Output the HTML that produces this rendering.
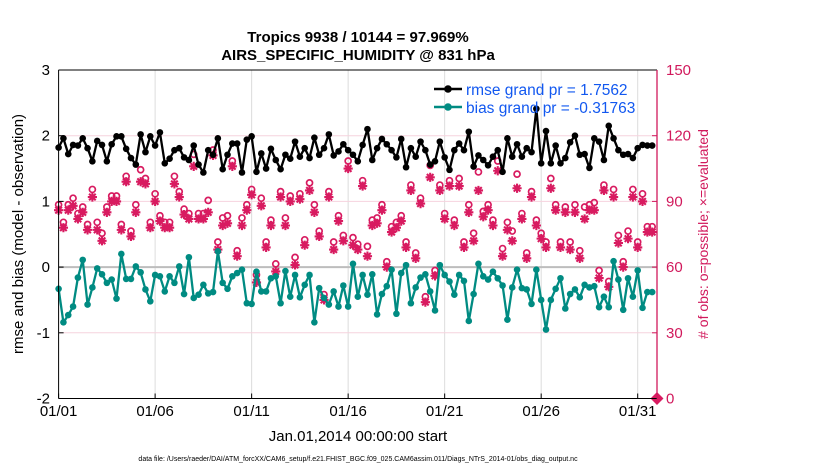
<!DOCTYPE html>
<html><head><meta charset="utf-8"><style>
html,body{margin:0;padding:0;background:#fff;}
svg{display:block;font-family:"Liberation Sans",sans-serif;}
</style></head><body>
<svg id="chart" width="830" height="470" viewBox="0 0 830 470">
<text x="358" y="42" text-anchor="middle" font-size="15" font-weight="bold">Tropics 9938 / 10144 = 97.969%</text>
<text x="358" y="60" text-anchor="middle" font-size="15" font-weight="bold">AIRS_SPECIFIC_HUMIDITY @ 831 hPa</text>
<g id="grid"></g>
<g id="series"></g>
<g id="axes"></g>
<text x="358" y="441" text-anchor="middle" font-size="15">Jan.01,2014 00:00:00 start</text>
<text transform="translate(23,234) rotate(-90)" text-anchor="middle" font-size="15">rmse and bias (model - observation)</text>
<text transform="translate(708,234) rotate(-90)" text-anchor="middle" font-size="14" fill="#d1195c"># of obs: o=possible; ×=evaluated</text>
<text x="358" y="461" text-anchor="middle" font-size="7">data file: /Users/raeder/DAI/ATM_forcXX/CAM6_setup/f.e21.FHIST_BGC.f09_025.CAM6assim.011/Diags_NTrS_2014-01/obs_diag_output.nc</text>
<g>
<line x1="434" y1="89" x2="462" y2="89" stroke="#000" stroke-width="2.5"/>
<circle cx="448" cy="89" r="3.8" fill="#000"/>
<text x="466" y="95" font-size="15.5" fill="#1258f0">rmse grand pr = 1.7562</text>
<line x1="434" y1="107" x2="462" y2="107" stroke="#008b82" stroke-width="2.5"/>
<circle cx="448" cy="107" r="3.8" fill="#008b82"/>
<text x="466" y="113" font-size="15.5" fill="#1258f0">bias grand pr = -0.31763</text>
</g>
</svg>
<script>
const rmse=[1.82,1.96,1.72,1.86,1.85,1.96,1.81,1.61,1.92,1.86,1.61,1.87,1.99,1.99,1.80,1.66,1.56,2.02,1.75,1.99,1.85,2.05,1.58,1.65,1.78,1.81,1.67,1.63,1.85,1.56,1.44,1.78,
1.71,1.96,1.49,1.71,1.88,1.88,1.44,1.94,1.99,1.45,1.73,1.50,1.80,1.63,1.49,1.71,1.65,1.91,1.68,1.81,1.66,1.97,1.71,1.81,2.02,1.70,1.76,1.87,1.78,1.71,1.61,
1.86,2.10,1.63,1.81,1.95,1.87,1.78,1.67,1.95,1.52,1.81,1.68,1.91,1.78,1.56,1.61,1.91,1.67,1.48,1.78,1.88,1.78,2.06,1.53,1.70,1.63,1.55,1.68,1.78,1.45,
1.96,1.68,1.87,1.68,1.81,1.75,2.41,1.58,2.07,1.58,1.85,1.58,1.66,1.90,2.00,1.71,1.72,1.51,1.96,1.91,1.63,2.15,1.96,1.78,1.71,1.72,1.66,1.81,1.86,1.85,1.85];
const bias=[-0.33,-0.84,-0.73,-0.60,-0.16,0.11,-0.57,-0.31,-0.02,-0.11,-0.24,-0.19,-0.48,0.20,-0.18,-0.18,0.01,-0.08,-0.34,-0.52,-0.12,-0.14,-0.37,-0.14,-0.24,0.01,-0.41,0.15,-0.47,-0.42,-0.27,-0.40,
-0.38,0.24,-0.24,-0.33,-0.14,-0.09,-0.04,-0.55,-0.56,-0.07,-0.37,-0.37,-0.17,-0.14,-0.55,-0.06,-0.45,-0.12,-0.46,-0.27,-0.12,-0.84,-0.32,-0.47,-0.57,-0.37,-0.60,-0.28,-0.60,0.05,-0.45,
-0.12,-0.42,-0.11,-0.72,-0.41,-0.29,-0.04,-0.71,-0.09,0.03,-0.55,-0.31,-0.16,-0.11,-0.37,-0.66,0.03,-0.12,-0.22,-0.42,-0.12,-0.21,-0.82,-0.41,0.05,-0.14,-0.19,-0.07,-0.17,-0.28,
-0.80,-0.31,-0.04,-0.32,-0.34,-0.56,-0.04,-0.50,-0.95,-0.50,-0.33,-0.17,-0.63,-0.41,-0.34,-0.46,-0.27,-0.31,-0.29,-0.61,-0.45,-0.61,0.09,-0.19,-0.65,-0.17,-0.45,-0.05,-0.62,-0.38,-0.38];
const evaluated=[86,78,86,88,82,85,77,92,77,72,85,90,90,77,99,74,85,99,98,78,90,81,78,78,98,92,84,82,106,82,82,85,
111,68,79,80,106,65,79,86,93,53,88,69,79,58,92,79,90,61,91,70,95,85,74,45,92,68,81,72,105,70,68,
97,65,79,80,86,60,76,78,81,69,95,64,89,44,101,56,95,82,97,79,97,69,85,72,95,83,86,79,104,65,
77,72,96,82,64,92,79,73,69,96,86,69,85,68,85,64,82,86,86,55,95,51,92,71,60,73,92,69,90,76,76,0];
const possibleExtra={3:90,7:94,8:80,9:75,16:88,17:104,20:93,24:100,28:111,31:90,33:70,34:81,35:82,38:81,41:54,42:91,45:61,47:80,49:63,52:97,53:87,57:70,60:107,61:71,64:69,77:106,83:100,85:88,86:75,87:103,91:108,92:68,93:80,94:76,95:102,102:100,106:70,107:88,108:66,109:87,111:89,112:57,115:95,116:74,118:76,119:94,121:92};
const possible=evaluated.map((v,i)=>v===0?0:(possibleExtra[i]!==undefined?Math.max(possibleExtra[i],v+3):v+2));
const leftTicks=[3,2,1,0,-1,-2];
const rightTicks=[150,120,90,60,30,0];
const xTickDays=[0,5,10,15,20,25,30];
const xTickLabels=["01/01","01/06","01/11","01/16","01/21","01/26","01/31"];

const NS="http://www.w3.org/2000/svg";
const X0=58.6,X1=657,Y0=70,Y1=398.5;
const xs=d=>X0+d*(X1-X0)/31;
const yL=v=>Y1-(v+2)*(Y1-Y0)/5;
const yR=c=>Y1-c*(Y1-Y0)/150;
function mk(tag,attrs,parent){const e=document.createElementNS(NS,tag);for(const k in attrs)e.setAttribute(k,attrs[k]);parent.appendChild(e);return e;}
const grid=document.getElementById('grid'),ser=document.getElementById('series'),ax=document.getElementById('axes');

xTickDays.forEach((d,i)=>{
 if(i>0){const g=mk('line',{x1:xs(d),x2:xs(d),y1:Y0,y2:Y1,stroke:'#dcdcdc','stroke-width':1},grid);
 
 }
 const t=mk('text',{x:xs(d),y:416,'text-anchor':'middle','font-size':15},ax);t.textContent=xTickLabels[i];
 
 
 mk('line',{x1:xs(d),x2:xs(d),y1:Y1,y2:Y1-5,stroke:'#000'},ax);
});
rightTicks.forEach(c=>{
 if(c>0&&c<150&&c!==60){const g=mk('line',{x1:X0,x2:X1,y1:yR(c),y2:yR(c),stroke:'#f6d3de','stroke-width':1},grid);
 
 }
 const t=mk('text',{x:666,y:yR(c)+5,'font-size':15,fill:'#d1195c'},ax);t.textContent=c;
 
 
 mk('line',{x1:X1,x2:X1-5,y1:yR(c),y2:yR(c),stroke:'#d1195c'},ax);
});
leftTicks.forEach(v=>{
 const t=mk('text',{x:50,y:yL(v)+5,'text-anchor':'end','font-size':15},ax);t.textContent=v;
 
 
 mk('line',{x1:X0,x2:X0+5,y1:yL(v),y2:yL(v),stroke:'#000'},ax);
});
const zl=mk('line',{x1:X0,x2:X1,y1:yL(0),y2:yL(0),stroke:'#bdbdbd','stroke-width':2},grid);



evaluated.forEach((c,i)=>{
 const x=xs(i*0.25),y=yR(c);
 const g=mk('g',{stroke:'#d81b60','stroke-width':2.1,fill:'none'},ser);
 
 
 if(c===0){mk('path',{d:`M${x} ${y-5}L${x+5} ${y}L${x} ${y+5}L${x-5} ${y}Z`,fill:'#d81b60'},g);return;}
 const r=4.6,q=3.3;
 mk('path',{d:`M${x-r} ${y}H${x+r}M${x} ${y-r}V${y+r}M${x-q} ${y-q}L${x+q} ${y+q}M${x-q} ${y+q}L${x+q} ${y-q}`},g);
});
possible.forEach((c,i)=>{
 if(c===0)return;
 const e=mk('circle',{cx:xs(i*0.25),cy:yR(c)-1,r:3,fill:'none',stroke:'#d81b60','stroke-width':1.7},ser);
 
 
});
function series(arr,color,name){
 const pts=arr.map((v,i)=>xs(i*0.25).toFixed(1)+','+yL(v).toFixed(1)).join(' ');
 const p=mk('polyline',{points:pts,fill:'none',stroke:color,'stroke-width':2.3,'stroke-linejoin':'round'},ser);
 
 
 arr.forEach((v,i)=>{
  const c=mk('circle',{cx:xs(i*0.25),cy:yL(v),r:3.3,fill:color},ser);
  
  
 });
}
series(rmse,'#000','rmse');
series(bias,'#008b82','bias');

mk('line',{x1:X0,x2:X1,y1:Y0,y2:Y0,stroke:'#000'},ax);
mk('line',{x1:X0,x2:X1,y1:Y1,y2:Y1,stroke:'#000'},ax);
mk('line',{x1:X0,x2:X0,y1:Y0,y2:Y1,stroke:'#000'},ax);
mk('line',{x1:X1,x2:X1,y1:Y0,y2:Y1,stroke:'#d1195c','stroke-width':1.3},ax);
</script>
</body></html>
